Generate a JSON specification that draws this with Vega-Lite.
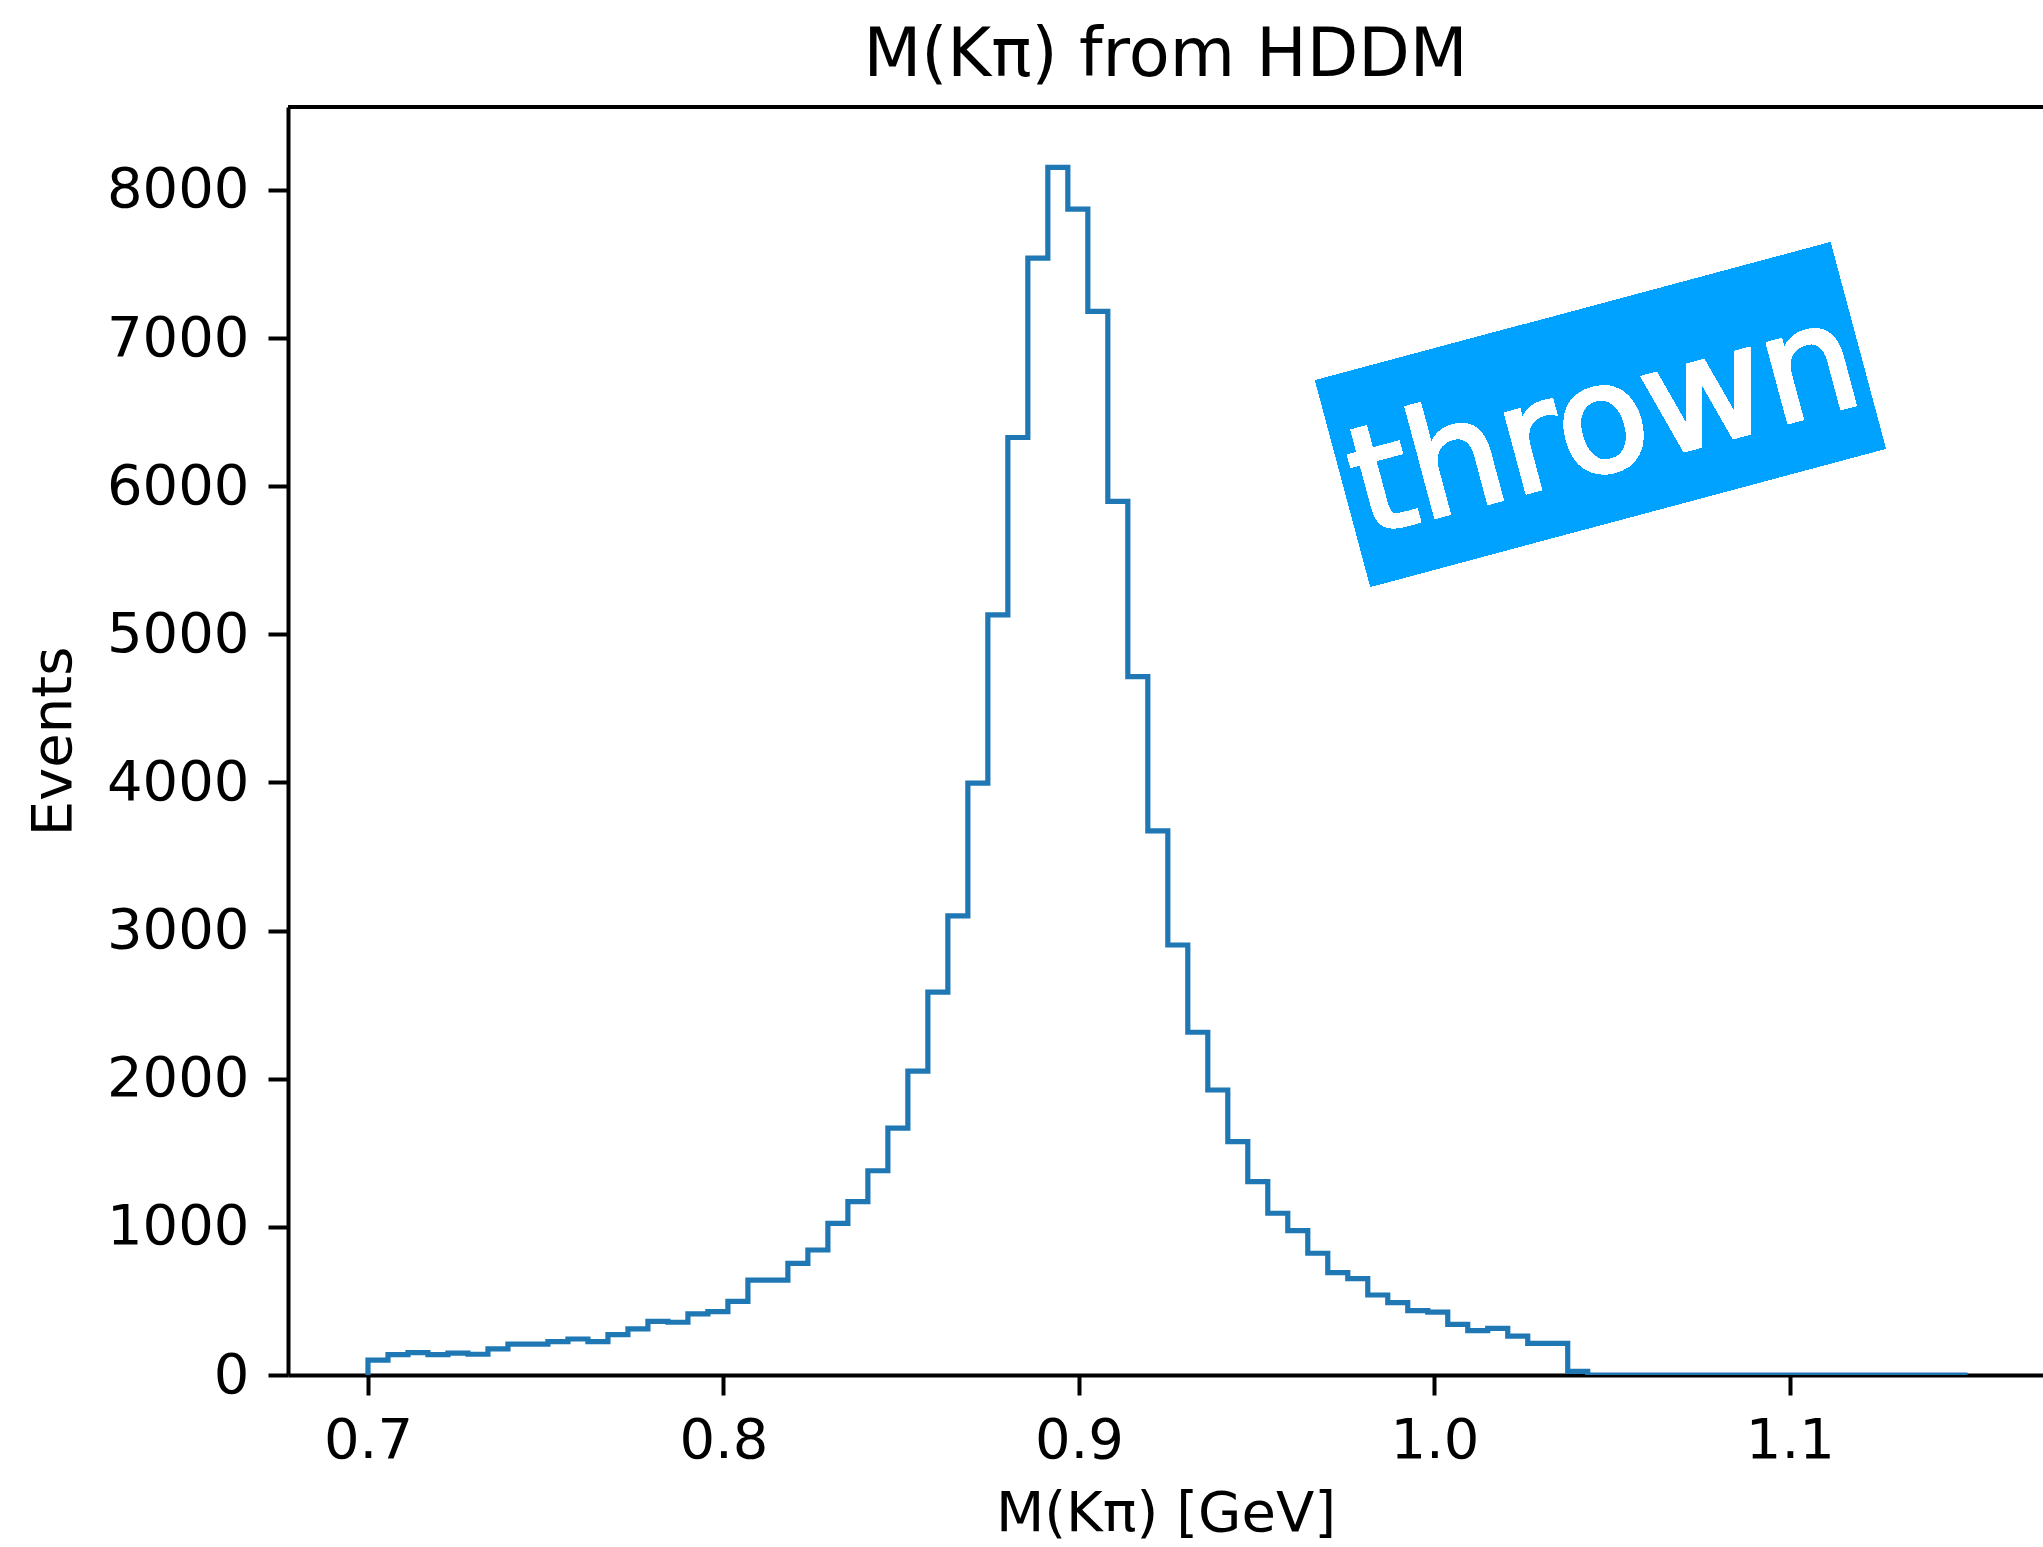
{
  "$schema": "https://vega.github.io/schema/vega-lite/v6.json",
  "width": 1755,
  "height": 1268,
  "autosize": {"type": "none"},
  "padding": {"left": 288, "top": 107, "right": 0, "bottom": 172},
  "background": "white",
  "config": {
    "view": {"stroke": null},
    "font": "DejaVu Sans",
    "axis": {
      "grid": false,
      "domainColor": "black",
      "domainWidth": 4,
      "tickColor": "black",
      "tickWidth": 4,
      "tickSize": 20,
      "labelFont": "DejaVu Sans",
      "labelFontSize": 56,
      "labelColor": "black",
      "titleFont": "DejaVu Sans",
      "titleFontSize": 56,
      "titleFontWeight": "normal",
      "titleColor": "black"
    }
  },
  "title": {
    "text": "M(Kπ) from HDDM",
    "font": "DejaVu Sans",
    "fontSize": 67,
    "fontWeight": "normal",
    "color": "black",
    "anchor": "middle",
    "baseline": "bottom",
    "offset": 15,
    "dy": 67
  },
  "data": {
    "values": [
      {"edge": 0.7, "n": 0},
      {"edge": 0.705625, "n": 101},
      {"edge": 0.71125, "n": 137},
      {"edge": 0.716875, "n": 151},
      {"edge": 0.7225, "n": 137},
      {"edge": 0.728125, "n": 148},
      {"edge": 0.73375, "n": 140},
      {"edge": 0.739375, "n": 176},
      {"edge": 0.745, "n": 209},
      {"edge": 0.750625, "n": 209},
      {"edge": 0.75625, "n": 225},
      {"edge": 0.761875, "n": 243},
      {"edge": 0.7675, "n": 225},
      {"edge": 0.773125, "n": 272},
      {"edge": 0.77875, "n": 311},
      {"edge": 0.784375, "n": 362},
      {"edge": 0.79, "n": 356},
      {"edge": 0.795625, "n": 412},
      {"edge": 0.80125, "n": 428},
      {"edge": 0.806875, "n": 497},
      {"edge": 0.8125, "n": 641},
      {"edge": 0.818125, "n": 641},
      {"edge": 0.82375, "n": 754},
      {"edge": 0.829375, "n": 844},
      {"edge": 0.835, "n": 1024},
      {"edge": 0.840625, "n": 1170},
      {"edge": 0.84625, "n": 1379},
      {"edge": 0.851875, "n": 1666},
      {"edge": 0.8575, "n": 2051},
      {"edge": 0.863125, "n": 2585},
      {"edge": 0.86875, "n": 3099},
      {"edge": 0.874375, "n": 3996},
      {"edge": 0.88, "n": 5132},
      {"edge": 0.885625, "n": 6329},
      {"edge": 0.89125, "n": 7540},
      {"edge": 0.896875, "n": 8152},
      {"edge": 0.9025, "n": 7871},
      {"edge": 0.908125, "n": 7180},
      {"edge": 0.91375, "n": 5897},
      {"edge": 0.919375, "n": 4715},
      {"edge": 0.925, "n": 3673},
      {"edge": 0.930625, "n": 2903},
      {"edge": 0.93625, "n": 2314},
      {"edge": 0.941875, "n": 1924},
      {"edge": 0.9475, "n": 1575},
      {"edge": 0.953125, "n": 1305},
      {"edge": 0.95875, "n": 1092},
      {"edge": 0.964375, "n": 974},
      {"edge": 0.97, "n": 822},
      {"edge": 0.975625, "n": 691},
      {"edge": 0.98125, "n": 650},
      {"edge": 0.986875, "n": 540},
      {"edge": 0.9925, "n": 488},
      {"edge": 0.998125, "n": 434},
      {"edge": 1.00375, "n": 425},
      {"edge": 1.009375, "n": 342},
      {"edge": 1.015, "n": 299},
      {"edge": 1.020625, "n": 315},
      {"edge": 1.02625, "n": 263},
      {"edge": 1.031875, "n": 214},
      {"edge": 1.0375, "n": 214},
      {"edge": 1.043125, "n": 25},
      {"edge": 1.04875, "n": 0},
      {"edge": 1.054375, "n": 0},
      {"edge": 1.06, "n": 0},
      {"edge": 1.065625, "n": 0},
      {"edge": 1.07125, "n": 0},
      {"edge": 1.076875, "n": 0},
      {"edge": 1.0825, "n": 0},
      {"edge": 1.088125, "n": 0},
      {"edge": 1.09375, "n": 0},
      {"edge": 1.099375, "n": 0},
      {"edge": 1.105, "n": 0},
      {"edge": 1.110625, "n": 0},
      {"edge": 1.11625, "n": 0},
      {"edge": 1.121875, "n": 0},
      {"edge": 1.1275, "n": 0},
      {"edge": 1.133125, "n": 0},
      {"edge": 1.13875, "n": 0},
      {"edge": 1.144375, "n": 0},
      {"edge": 1.15, "n": 0}
    ]
  },
  "layer": [
    {
      "mark": {"type": "line", "interpolate": "step-before", "color": "#1f77b4", "strokeWidth": 5.2, "strokeJoin": "miter", "strokeCap": "butt", "clip": true},
      "encoding": {
        "x": {
          "field": "edge",
          "type": "quantitative",
          "scale": {"domain": [0.6775, 1.1712], "nice": false, "zero": false},
          "axis": {
            "values": [0.7, 0.8, 0.9, 1.0, 1.1],
            "format": ".1f",
            "labelPadding": 18,
            "title": "M(Kπ) [GeV]",
            "titlePadding": 18
          }
        },
        "y": {
          "field": "n",
          "type": "quantitative",
          "scale": {"domain": [0, 8560], "nice": false},
          "axis": {
            "values": [0, 1000, 2000, 3000, 4000, 5000, 6000, 7000, 8000],
            "format": "d",
            "labelPadding": 19,
            "title": "Events",
            "titlePadding": 24
          }
        }
      }
    },
    {
      "mark": {"type": "rule", "color": "black", "strokeWidth": 4},
      "encoding": {"y": {"datum": 8560}}
    },
    {
      "mark": {
        "type": "point",
        "shape": "M-1,-0.4L1,-0.4L1,0.4L-1,0.4Z",
        "filled": true,
        "color": "#00a2ff",
        "opacity": 1,
        "size": 284089,
        "angle": -15,
        "strokeWidth": 0
      },
      "encoding": {"x": {"datum": 1.0467}, "y": {"datum": 6484}}
    },
    {
      "mark": {
        "type": "text",
        "text": "thrown",
        "font": "DejaVu Sans",
        "fontSize": 149,
        "color": "white",
        "stroke": "white",
        "strokeWidth": 3,
        "angle": -15,
        "align": "center",
        "baseline": "middle"
      },
      "encoding": {"x": {"datum": 1.048}, "y": {"datum": 6413}}
    }
  ]
}
